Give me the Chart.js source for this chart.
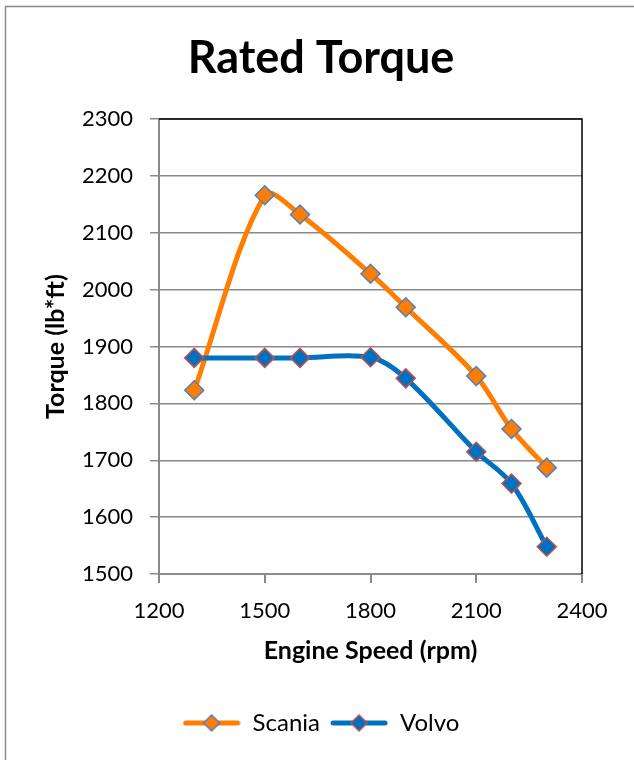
<!DOCTYPE html>
<html>
<head>
<meta charset="utf-8">
<script src="https://cdn.jsdelivr.net/npm/chart.js@4.4.1/dist/chart.umd.min.js"></script>
<style>
  html, body { margin: 0; padding: 0; background: #fff; overflow: hidden; }
  #wrap { width: 634px; height: 760px; }
</style>
</head>
<body>
<div id="wrap"><canvas id="torqueChart" width="634" height="760"></canvas></div>
<script>
// ---- data ----
const engineSpeed = [1300, 1500, 1600, 1800, 1900, 2100, 2200, 2300];
const scaniaTorque = [1823, 2166, 2132, 2028, 1969, 1848, 1755, 1687];
const volvoTorque  = [1880, 1880, 1880, 1881, 1844, 1715, 1659, 1548];
const seriesNames = ['Scania', 'Volvo'];

const ORANGE = '#ff7d00';
const BLUE = '#0070c0';
const MARKER_BLUE = '#4f81bd';
const MARKER_RED = '#c0504d';
const GRID = '#8a8a8a';
const FONT = 'Lato, "Open Sans", sans-serif';

function toPoints(xs, ys) {
    return xs.map((x, i) => ({ x: x, y: ys[i] }));
}

// legend icon: line with a diamond in the middle, like Excel
function makeLegendIcon(lineColor, fill, stroke) {
    const c = document.createElement('canvas');
    c.width = 58; c.height = 20;
    const g = c.getContext('2d');
    g.strokeStyle = lineColor;
    g.lineWidth = 5;
    g.lineCap = 'round';
    g.beginPath(); g.moveTo(3, 10); g.lineTo(55, 10); g.stroke();
    g.fillStyle = fill;
    g.strokeStyle = stroke;
    g.lineWidth = 1.5;
    g.beginPath();
    g.moveTo(29, 2); g.lineTo(37, 10); g.lineTo(29, 18); g.lineTo(21, 10); g.closePath();
    g.fill(); g.stroke();
    return c;
}

const legendIcons = [
    makeLegendIcon(ORANGE, ORANGE, MARKER_BLUE),
    makeLegendIcon(BLUE, BLUE, MARKER_RED)
];

const chartFrame = {
    id: 'chartFrame',
    beforeDraw(chart) {
        const ctx = chart.ctx;
        ctx.save();
        ctx.fillStyle = '#fff';
        ctx.fillRect(0, 0, chart.width, chart.height);
        ctx.strokeStyle = '#8a8a8a';
        ctx.lineWidth = 1.5;
        ctx.beginPath();
        ctx.moveTo(5.5, chart.height);
        ctx.lineTo(5.5, 6.5);
        ctx.lineTo(chart.width, 6.5);
        ctx.stroke();
        ctx.restore();
    },
    beforeDatasetsDraw(chart) {
        const a = chart.chartArea;
        const ctx = chart.ctx;
        ctx.save();
        ctx.strokeStyle = '#000';
        ctx.lineWidth = 1.5;
        ctx.beginPath();
        ctx.moveTo(a.left, a.top);
        ctx.lineTo(a.right, a.top);
        ctx.lineTo(a.right, a.bottom);
        ctx.stroke();
        ctx.restore();
    }
};

const plainNumber = v => String(v);

const ctx = document.getElementById('torqueChart').getContext('2d');
new Chart(ctx, {
    type: 'scatter',
    data: {
        datasets: [
            {
                label: seriesNames[0],
                data: toPoints(engineSpeed, scaniaTorque),
                showLine: true,
                borderColor: ORANGE,
                borderWidth: 5,
                tension: 0.33,
                pointStyle: 'rectRot',
                pointRadius: 9.5,
                pointBackgroundColor: ORANGE,
                pointBorderColor: MARKER_BLUE,
                pointBorderWidth: 1.5,
                order: 1
            },
            {
                label: seriesNames[1],
                data: toPoints(engineSpeed, volvoTorque),
                showLine: true,
                borderColor: BLUE,
                borderWidth: 5,
                tension: 0.33,
                pointStyle: 'rectRot',
                pointRadius: 9.5,
                pointBackgroundColor: BLUE,
                pointBorderColor: MARKER_RED,
                pointBorderWidth: 1.5,
                order: 0
            }
        ]
    },
    options: {
        responsive: false,
        animation: false,
        layout: { padding: { left: 60, right: 52, top: 0, bottom: 15 } },
        plugins: {
            tooltip: { enabled: false },
            title: {
                display: true,
                text: 'Rated Torque',
                color: '#000',
                font: { family: FONT, size: 45, weight: 'bold' },
                padding: { top: 31, bottom: 34 }
            },
            legend: {
                position: 'bottom',
                labels: {
                    usePointStyle: true,
                    pointStyleWidth: 58,
                    padding: 10,
                    color: '#000',
                    font: { family: FONT, size: 24 },
                    generateLabels: () => seriesNames.map((name, i) => ({
                        text: name,
                        pointStyle: legendIcons[i],
                        datasetIndex: i,
                        fillStyle: 'transparent',
                        strokeStyle: 'transparent',
                        lineWidth: 0,
                        fontColor: '#000'
                    }))
                }
            }
        },
        scales: {
            x: {
                type: 'linear',
                min: 1200,
                max: 2400,
                afterFit: s => { s.height = 127; },
                ticks: {
                    stepSize: 300,
                    color: '#000',
                    padding: 15,
                    maxRotation: 0,
                    callback: plainNumber,
                    font: { family: FONT, size: 22 }
                },
                grid: { drawOnChartArea: false, color: GRID, lineWidth: 2, tickLength: 9 },
                border: { color: GRID, width: 2 },
                title: {
                    display: true,
                    text: 'Engine Speed (rpm)',
                    color: '#000',
                    font: { family: FONT, size: 25, weight: 'bold' },
                    padding: { top: 0, bottom: 35 }
                }
            },
            y: {
                min: 1500,
                max: 2300,
                afterFit: s => { s.width = 99; },
                ticks: {
                    stepSize: 100,
                    color: '#000',
                    padding: 17,
                    callback: plainNumber,
                    font: { family: FONT, size: 22 }
                },
                grid: { color: GRID, lineWidth: 1.5, tickLength: 9 },
                border: { color: GRID, width: 2 },
                title: {
                    display: true,
                    text: 'Torque (lb*ft)',
                    color: '#000',
                    font: { family: FONT, size: 25, weight: 'bold' },
                    padding: { top: -19, bottom: 0 }
                }
            }
        }
    },
    plugins: [chartFrame]
});
</script>
</body>
</html>
